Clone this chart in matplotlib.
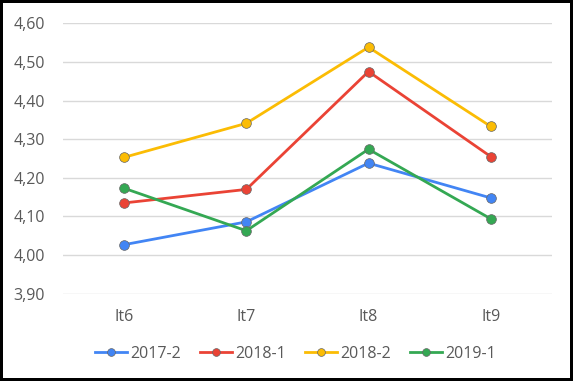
"""Line chart: average score per iteration, by semester."""

import matplotlib.pyplot as plt
import matplotlib.ticker as ticker
import numpy as np

categories = ["It6", "It7", "It8", "It9"]
series_names = ["2017-2", "2018-1", "2018-2", "2019-1"]
s2017_2 = [4.027, 4.086, 4.238, 4.148]
s2018_1 = [4.135, 4.170, 4.475, 4.255]
s2018_2 = [4.253, 4.341, 4.538, 4.333]
s2019_1 = [4.173, 4.063, 4.274, 4.094]

COLORS = ["#4285F4", "#EA4335", "#FBBC04", "#34A853"]

plt.rcParams.update({
    "font.family": ["Open Sans", "DejaVu Sans"],
    "font.size": 11,
})

fig = plt.figure(figsize=(5.73, 3.81), dpi=100)
fig.patch.set_facecolor("white")
fig.patch.set_edgecolor("black")
fig.patch.set_linewidth(3)
ax = fig.add_axes([0.110, 0.229, 0.853, 0.710])

x = np.arange(len(categories))
for name, vals, c in zip(series_names, [s2017_2, s2018_1, s2018_2, s2019_1], COLORS):
    ax.plot(x, vals, color=c, lw=2, marker="o", ms=7, mfc=c,
            mec="#666666", mew=0.5, label=name, zorder=3)

ax.set_xlim(-0.5, 3.5)
ax.set_ylim(3.9, 4.6)
ax.yaxis.set_major_locator(ticker.MultipleLocator(0.1))
ax.yaxis.set_major_formatter(ticker.FuncFormatter(lambda v, _: f"{v:.2f}".replace(".", ",")))
ax.set_xticks(x)
ax.set_xticklabels(categories)
ax.tick_params(axis="both", length=0, colors="#595959", labelsize=11.5)
ax.tick_params(axis="y", pad=13)
ax.tick_params(axis="x", pad=11)
ax.grid(axis="y", color="#D9D9D9", lw=1)
ax.set_axisbelow(True)
for s in ax.spines.values():
    s.set_visible(False)

leg = ax.legend(loc="upper center", bbox_to_anchor=(0.475, -0.14), ncol=4,
                frameon=False, handlelength=2.0, handletextpad=0.2,
                columnspacing=1.2, fontsize=11.5, markerscale=0.8)
for t in leg.get_texts():
    t.set_color("#595959")

fig.savefig("out.png", dpi=100)
